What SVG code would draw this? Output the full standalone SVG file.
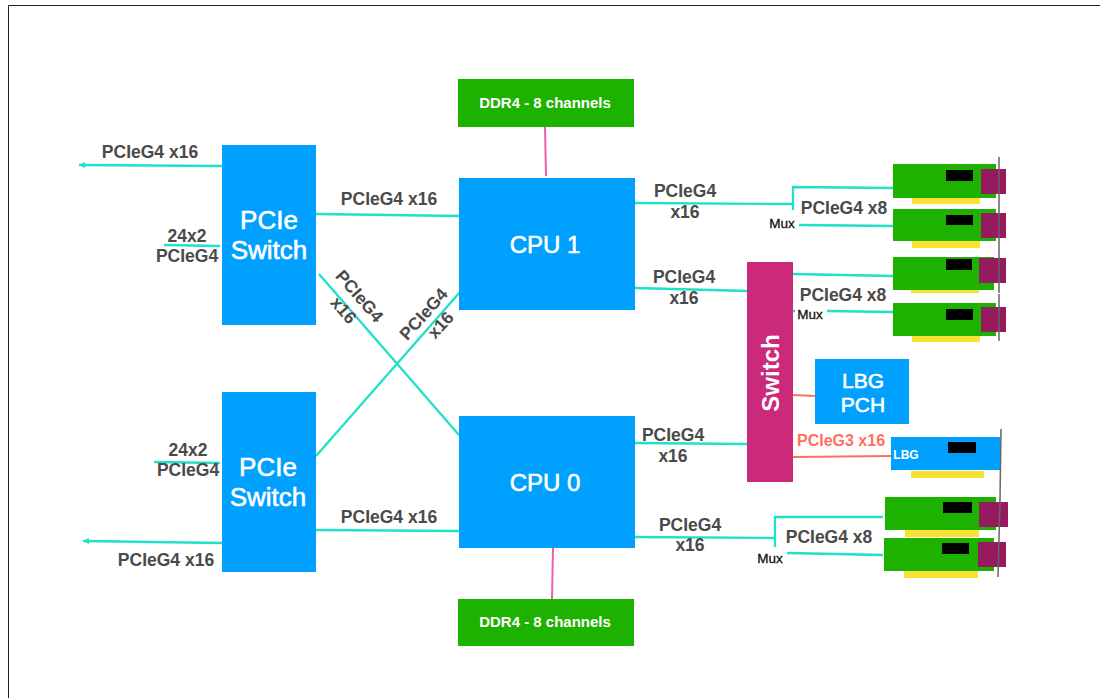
<svg xmlns="http://www.w3.org/2000/svg" width="1100" height="698" viewBox="0 0 1100 698">
<style>
text{font-family:"Liberation Sans",Arial,sans-serif;font-weight:700}
.lb{font-size:17.500px;fill:#4a4a4a;text-anchor:middle}
.mux{font-size:13.500px;fill:#111;text-anchor:middle;font-weight:400;stroke:#111;stroke-width:.3}
.w{fill:#fff;text-anchor:middle;font-weight:400;font-size:24px;stroke:#fff;stroke-width:.6}
.sw{font-size:26px}
.blue{fill:#00a0ff}.green{fill:#1db100}.yel{fill:#fae232}.blk{fill:#000}.mar{fill:#961a5e}
.c{fill:none;stroke:#1fe0c8;stroke-width:2.300}
.r{fill:none;stroke:#ff6f61;stroke-width:2}
.p{fill:none;stroke:#ee5fa7;stroke-width:2}
.v{fill:none;stroke:#666;stroke-width:1.500}
</style>
<defs><marker id="a" markerUnits="userSpaceOnUse" markerWidth="8" markerHeight="8" refX="6" refY="3" orient="auto"><path d="M0 0L6 3L0 6Z" fill="#1fe0c8"/></marker></defs>
<rect width="1100" height="698" fill="#fff"/>
<path d="M1100 5.500H8.500V698" fill="none" stroke="#222" stroke-width="1"/>
<g id="connectors">
<path class="p" d="M545 127L546 176"/><path class="p" d="M553 548L552 599"/>
<path class="c" d="M222 166L79 165" marker-end="url(#a)"/>
<path class="c" d="M222 543L83 541" marker-end="url(#a)"/>
<path class="c" d="M164 245L220 246"/><path class="c" d="M154 462L220 463"/>
<path class="c" d="M316 214L459 216"/><path class="c" d="M316 530L459 531"/>
<path class="c" d="M319 274L459 435"/><path class="c" d="M316 456L460 292"/>
<path class="c" d="M635 203L793 204V187L894 188M793 204V210M799 225L894 226"/>
<path class="c" d="M635 288L748 291"/>
<path class="c" d="M792 274L893 276M792 311L795 311M827 311L893 312"/>
<path class="c" d="M635 443L748 444"/>
<path class="c" d="M635 537L775 538V517L883 517M775 538V547M787 553L883 555"/>
<path class="r" d="M792 395L816 396"/><path class="r" d="M793 457L891 456"/>
</g>
<g id="pcie-switch-1"><rect class="blue" x="222" y="145" width="94" height="180"/><text class="w sw" x="269" y="229">PCIe</text><text class="w sw" x="269" y="259">Switch</text></g>
<g id="pcie-switch-0"><rect class="blue" x="222" y="392" width="94" height="180"/><text class="w sw" x="268" y="476">PCIe</text><text class="w sw" x="268" y="506">Switch</text></g>
<g id="cpu-1"><rect class="blue" x="459" y="178" width="176" height="132"/><text class="w" x="545" y="253">CPU 1</text></g>
<g id="cpu-0"><rect class="blue" x="459" y="416" width="176" height="132"/><text class="w" x="545" y="491">CPU 0</text></g>
<g id="ddr-top"><rect class="green" x="458" y="79" width="176" height="48"/><text x="545" y="108" font-size="15" fill="#fff" text-anchor="middle">DDR4 - 8 channels</text></g>
<g id="ddr-bottom"><rect class="green" x="458" y="599" width="176" height="47"/><text x="545" y="627" font-size="15" fill="#fff" text-anchor="middle">DDR4 - 8 channels</text></g>
<g id="switch"><rect x="747" y="262" width="46" height="220" fill="#cb2a7b"/><text class="w" style="font-weight:700;stroke-width:0" transform="translate(779 373) rotate(-90)">Switch</text></g>
<g id="lbg-pch"><rect class="blue" x="815" y="359" width="94" height="65"/><text class="w" x="863" y="388" style="font-size:21px">LBG</text><text class="w" x="863" y="412" style="font-size:21px">PCH</text></g>
<g id="card-1"><rect class="yel" x="912" y="198" width="68" height="6"/><rect class="green" x="893" y="164" width="103" height="34"/><rect class="blk" x="946" y="170" width="27" height="11"/><rect class="mar" x="981" y="169" width="25" height="25"/></g>
<g id="card-2"><rect class="yel" x="912" y="241" width="68" height="7"/><rect class="green" x="893" y="209" width="103" height="32"/><rect class="blk" x="946" y="215" width="27" height="10"/><rect class="mar" x="981" y="213" width="25" height="25"/></g>
<g id="card-3"><rect class="yel" x="911" y="290" width="68" height="3"/><rect class="green" x="893" y="257" width="101" height="33"/><rect class="blk" x="946" y="259" width="26" height="11"/><rect class="mar" x="979" y="258" width="27" height="25"/></g>
<g id="card-4"><rect class="yel" x="912" y="336" width="68" height="6"/><rect class="green" x="893" y="303" width="103" height="33"/><rect class="blk" x="946" y="309" width="27" height="11"/><rect class="mar" x="981" y="307" width="25" height="25"/></g>
<g id="card-lbg"><rect class="yel" x="911" y="471" width="73" height="7"/><rect class="blue" x="891" y="437" width="109" height="33"/><rect class="blk" x="948" y="442" width="28" height="11"/><text x="906" y="459" font-size="12" fill="#fff" text-anchor="middle" font-weight="400">LBG</text></g>
<g id="card-5"><rect class="yel" x="905" y="530" width="74" height="7"/><rect class="green" x="885" y="497" width="111" height="33"/><rect class="blk" x="943" y="502" width="29" height="11"/><rect class="mar" x="979" y="502" width="29" height="25"/></g>
<g id="card-6"><rect class="yel" x="904" y="571" width="74" height="7"/><rect class="green" x="884" y="538" width="110" height="33"/><rect class="blk" x="942" y="543" width="27" height="11"/><rect class="mar" x="978" y="542" width="28" height="25"/></g>
<g id="brackets"><path class="v" d="M999 157L999 293M999 294L999 341M1001 429L1000 500L998 577"/></g>
<g id="labels">
<text class="lb" x="150" y="158">PCIeG4 x16</text>
<text class="lb" x="389" y="205">PCIeG4 x16</text>
<text class="lb" x="389" y="523">PCIeG4 x16</text>
<text class="lb" x="166" y="566">PCIeG4 x16</text>
<text class="lb" x="187" y="242">24x2</text><text class="lb" x="187" y="262">PCIeG4</text>
<text class="lb" x="188" y="456">24x2</text><text class="lb" x="188" y="476">PCIeG4</text>
<text class="lb" transform="translate(355 300) rotate(49)">PCIeG4</text>
<text class="lb" transform="translate(339 314) rotate(49)">x16</text>
<text class="lb" transform="translate(428 318) rotate(-48)">PCIeG4</text>
<text class="lb" transform="translate(445 329) rotate(-48)">x16</text>
<text class="lb" x="685" y="197">PCIeG4</text><text class="lb" x="685" y="218">x16</text>
<text class="lb" x="684" y="283">PCIeG4</text><text class="lb" x="684" y="304">x16</text>
<text class="lb" x="673" y="441">PCIeG4</text><text class="lb" x="673" y="462">x16</text>
<text class="lb" x="690" y="531">PCIeG4</text><text class="lb" x="690" y="551">x16</text>
<text class="lb" x="844" y="214">PCIeG4 x8</text>
<text class="lb" x="843" y="301">PCIeG4 x8</text>
<text class="lb" x="829" y="543">PCIeG4 x8</text>
<text class="lb" x="841" y="446" style="fill:#ff6f61;font-size:16px">PCIeG3 x16</text>
<text class="mux" x="782" y="228">Mux</text><text class="mux" x="810" y="319">Mux</text><text class="mux" x="770" y="563">Mux</text>
</g>
</svg>
